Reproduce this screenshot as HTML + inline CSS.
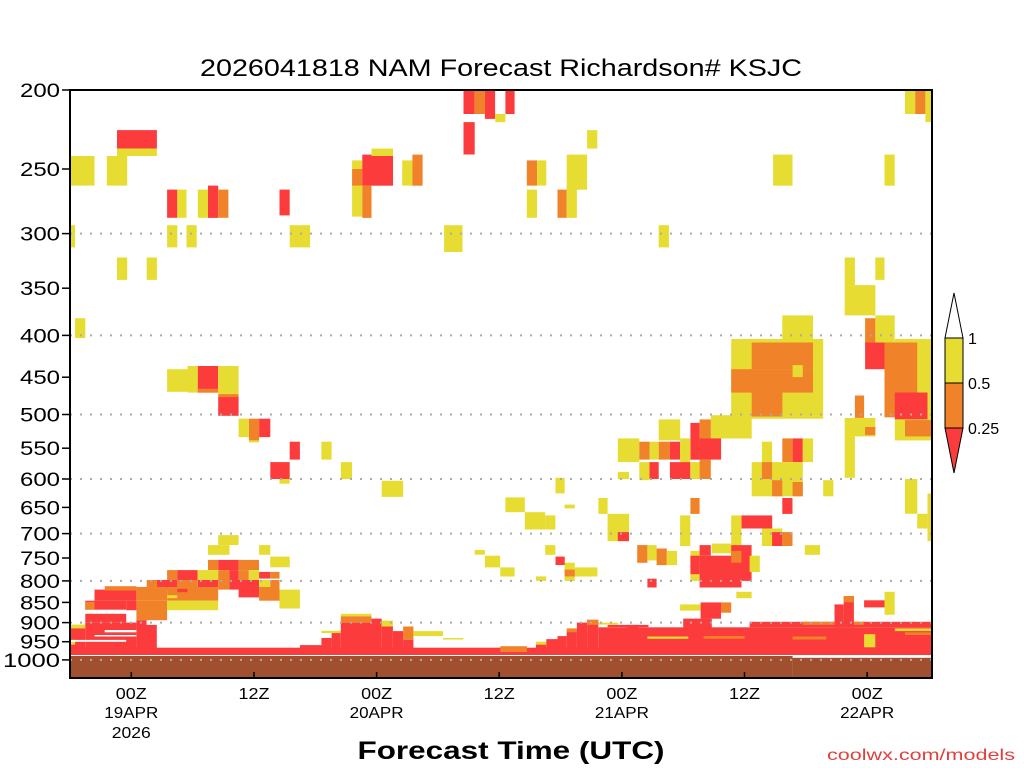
<!DOCTYPE html>
<html><head><meta charset="utf-8"><style>
html,body{margin:0;padding:0;background:#fff;}
svg{display:block;font-family:"Liberation Sans","DejaVu Sans",sans-serif;}
</style></head>
<body>
<svg id="chart" width="1024" height="768" viewBox="0 0 1024 768" xmlns="http://www.w3.org/2000/svg">
<rect x="0" y="0" width="1024" height="768" fill="#fff"/>
<text x="501" y="76" font-size="24" text-anchor="middle" textLength="602" lengthAdjust="spacingAndGlyphs" fill="#000">2026041818 NAM Forecast Richardson# KSJC</text>
<g id="cells"></g>
<g id="grid"></g>
<rect x="70" y="90" width="862" height="588" fill="none" stroke="#000" stroke-width="2"/>
<g id="yaxis"></g>
<g id="xaxis"></g>
<text x="511" y="759" font-size="25" font-weight="bold" text-anchor="middle" textLength="307" lengthAdjust="spacingAndGlyphs">Forecast Time (UTC)</text>
<text x="1015" y="760" font-size="16" text-anchor="end" textLength="188" lengthAdjust="spacingAndGlyphs" fill="#e0403c">coolwx.com/models</text>
<g id="legend">
  <polygon points="945,338 963,338 954,293" fill="#fff" stroke="#000" stroke-width="1"/>
  <rect x="945" y="338" width="18" height="45" fill="#e6dc32" stroke="#000" stroke-width="1"/>
  <rect x="945" y="383" width="18" height="45" fill="#f0822a" stroke="#000" stroke-width="1"/>
  <polygon points="945,428 963,428 954,473" fill="#fc3c3c" stroke="#000" stroke-width="1"/>
  <text x="968" y="344" font-size="16">1</text>
  <text x="968" y="389" font-size="16">0.5</text>
  <text x="968" y="434" font-size="16">0.25</text>
</g>
</svg>
<script>
// pressure tick labels (hPa)
const pressureTicks = [200,250,300,350,400,450,500,550,600,650,700,750,800,850,900,950,1000];
const gridPressures = [300,400,500,600,700,800,900,1000];
// time ticks: forecast hour from 18Z 18APR
const timeTickHours = [6,18,30,42,54,66,78];
const timeTickLabels = ["00Z","12Z","00Z","12Z","00Z","12Z","00Z"];
const dateLabels = ["19APR","","20APR","","21APR","","22APR"];
const yearLabels = ["2026","","","","","",""];
// categories: 0 white gap, 1 = 0.5-1, 2 = 0.25-0.5, 3 = <0.25, 4 = ground
const catColors = ["#ffffff","#e6dc32","#f0822a","#fc3c3c","#a0502e"];
// blocks: [hourStart, hourEnd, pressureTop, pressureBottom, category]
const blocks = [
[4.6,8.5,224,236,3],[4.6,8.5,236,241,1],[0,2.4,241,262,1],[3.6,5.6,241,262,1],
[38.5,39.6,219,240,3],[50.6,51.6,224,236,1],
[38.5,39.6,200,214,3],[39.6,40.6,200,214,2],[40.6,41.6,200,217,3],[41.6,42.6,214,219,1],[42.6,43.5,200,214,3],
[81.7,82.7,200,214,1],[82.7,83.7,200,214,2],[83.7,84.3,200,219,1],
[27.6,28.6,244,286,1],[27.6,28.6,250,262,2],[28.6,31.6,240,262,3],[29.5,31.6,236,241,1],[28.6,29.5,262,287,2],
[32.5,33.5,244,262,1],[33.5,34.5,240,262,2],
[9.5,10.5,265,287,3],[10.5,11.4,265,287,1],[12.5,13.5,265,287,1],[13.5,14.5,262,287,3],[14.5,15.5,265,287,2],[20.5,21.5,265,285,3],
[44.7,45.7,244,262,2],[45.7,46.6,244,262,1],[44.7,45.7,265,287,1],[47.7,48.6,265,287,2],[48.6,49.6,262,287,1],[48.6,50.6,240,265,1],
[68.8,70.7,240,262,1],[79.7,80.7,240,262,1],
[0,0.5,293,312,1],[9.5,10.5,293,312,1],[11.4,12.4,293,312,1],[21.5,23.5,293,312,1],[36.6,38.4,293,316,1],[57.6,58.6,293,312,1],
[4.6,5.6,321,342,1],[7.5,8.5,321,342,1],[0.5,1.5,381,403,1],
[75.8,76.8,321,347,1],[75.8,78.8,347,378,1],[78.8,79.7,321,342,1],
[69.7,72.7,378,406,1],[78.8,80.7,378,411,1],[77.8,78.8,381,411,2],
[64.7,73.7,404,506,1],[66.7,72.7,408,440,2],[64.7,72.7,440,470,2],[66.7,69.7,470,503,2],[70.7,71.7,435,450,1],
[80.7,84.3,404,538,1],[79.7,82.9,408,504,2],[77.8,79.7,408,440,3],[80.7,83.9,470,507,3],[81.7,84.3,508,532,2],
[76.8,77.7,474,505,2],[75.8,78.8,505,532,1],[77.8,78.8,518,530,2],[75.8,76.8,532,598,1],
[57.6,59.7,507,538,1],[62.7,66.7,501,535,1],[60.7,61.6,512,568,3],[61.6,62.7,507,568,2],[61.6,63.7,535,568,3],
[53.6,55.7,535,572,1],[55.7,56.7,540,568,2],[56.7,57.6,540,568,1],[57.6,58.7,540,568,2],[58.7,59.7,540,568,3],[59.7,60.7,535,572,1],
[56.7,57.6,572,600,3],[58.7,60.7,572,600,3],[60.7,61.6,572,600,1],[61.6,62.7,568,600,2],[55.7,56.7,572,602,1],[53.6,54.7,588,600,1],
[67.7,68.7,540,572,1],[69.7,70.7,535,572,2],[70.7,71.7,535,572,3],[71.7,72.7,535,572,1],
[66.7,71.7,572,630,1],[67.7,68.7,572,600,2],[68.7,69.7,602,630,2],[70.7,71.7,605,630,2],[73.7,74.7,602,630,1],[69.7,70.7,633,662,3],
[51.7,52.6,633,662,1],[52.6,54.7,662,715,1],[53.6,54.7,697,715,3],[60.7,61.6,633,662,2],[59.7,60.7,665,725,1],
[64.7,65.7,665,725,1],[65.7,68.7,665,690,3],[67.7,69.7,690,725,1],[68.7,69.7,697,725,3],[69.7,70.7,697,725,2],
[81.7,82.9,600,662,1],[82.9,83.9,662,690,1],[83.9,84.3,625,715,1],
[42.6,44.5,632,659,1],[44.5,46.5,659,692,1],[46.5,47.5,665,692,1],[47.5,48.4,598,625,1],[48.4,49.4,645,652,1],
[46.5,47.5,723,743,1],[48.4,49.4,760,800,1],[49.4,51.6,770,790,1],[45.6,46.6,790,800,1],[47.5,48.4,747,765,3],[48.4,49.4,775,790,2],
[39.6,40.6,733,743,1],[40.6,42.1,745,770,1],[42.1,43.5,770,790,1],
[55.5,56.5,723,760,2],[56.5,57.4,723,755,1],[57.4,58.4,730,765,2],[58.4,59.4,735,765,1],[56.5,57.4,795,815,3],
[60.7,61.6,735,800,1],[60.7,61.6,745,785,3],[61.6,62.7,723,745,3],[62.8,64.7,720,740,1],[61.6,65.7,745,815,3],
[64.7,66.7,723,800,3],[64.7,65.7,735,760,2],[66.5,67.5,745,780,1],[71.9,73.4,723,743,1],[65.2,66.7,825,840,1],
[9.5,12.5,440,469,1],[11.5,12.5,436,470,1],[12.5,14.5,436,470,3],[12.5,14.5,465,470,2],[14.5,16.5,436,472,1],[14.5,16.5,476,502,3],[14.5,16.5,472,476,2],
[16.5,17.5,506,533,1],[17.5,18.5,506,538,2],[18.5,19.6,506,533,3],[17.5,18.5,538,541,1],
[21.5,22.5,540,568,3],[24.6,25.6,540,568,1],[19.6,21.5,572,600,3],[20.5,21.5,600,608,1],[26.5,27.6,572,600,1],[30.5,32.6,603,631,1],
[14.5,16.5,703,723,1],[13.5,15.6,723,743,1],[18.5,19.6,723,743,1],[19.6,21.5,747,765,1],
[13.5,14.5,754,776,2],[14.5,16.5,754,776,3],[16.5,18.5,754,776,2],[19.6,21.5,754,770,1],
[9.5,10.5,776,798,2],[10.5,12.5,776,798,3],[12.5,14.5,776,798,1],[14.5,15.6,776,798,2],[15.6,16.5,776,798,3],[16.5,17.5,776,798,2],[17.5,18.5,776,798,1],[18.5,19.6,780,795,3],[19.6,20.5,780,795,2],
[7.5,8.5,798,820,2],[8.5,10.5,798,820,3],[10.5,12.5,798,820,2],[12.5,14.5,798,820,3],[14.5,15.6,798,820,2],[15.6,18.5,798,820,3],[18.5,19.6,798,820,1],[19.6,20.5,798,820,2],
[2.4,6.5,820,846,3],[3.4,6.5,812,822,2],[6.5,9.5,814,846,2],[9.5,14.5,814,846,2],[10.5,11.5,818,826,3],[9.5,10.5,833,840,1],[16.5,18.5,818,838,3],[18.5,20.5,814,846,2],[20.5,22.5,820,865,1],
[9.5,14.5,846,869,1],[6.5,9.5,846,894,2],[5.5,6.5,846,869,3],[1.5,5.5,846,868,3],[1.5,2.4,849,869,2],[1.5,5.5,868,878,0],[1.5,5.5,878,900,3],[6.5,7.5,894,919,3],
[0,1.5,905,915,1],[0,1.5,915,986,3],[1.5,6.5,900,986,3],[6.5,8.5,906,986,3],[0,0.5,945,958,1],
[3.4,6.5,919,925,0],[0,5.5,945,950,0],[2.4,6.5,932,936,0],
[0,84.3,966,986,3],
[22.5,24.6,959,986,3],[24.6,25.6,940,986,3],[25.6,26.5,925,986,3],[24.6,26.5,921,927,1],
[26.5,29.5,900,986,3],[26.5,29.5,884,900,2],[26.5,29.5,878,884,1],[29.5,30.5,890,986,3],[30.5,31.6,910,986,3],[30.5,31.6,895,910,1],
[31.6,32.6,922,986,3],[32.6,33.6,910,945,2],[32.6,33.6,945,986,3],[33.6,36.5,922,935,1],[36.5,38.5,940,944,1],
[42.1,44.7,962,978,2],
[45.6,46.6,955,986,3],[45.6,46.6,950,958,1],[46.6,47.7,943,986,3],[47.7,48.6,935,986,3],[48.6,49.6,920,986,3],[48.6,49.6,915,925,2],
[49.6,50.6,900,986,3],[50.6,51.7,893,986,3],[50.6,51.7,893,906,2],[51.7,84.3,912,986,3],[51.7,53.6,900,905,1],
[52.6,56.6,906,912,3],[54.5,55.6,906,932,3],[60,62.8,890,925,3],[61.7,63.7,850,890,3],[63.7,64.7,850,875,2],[59.7,61.7,855,870,1],
[66.5,84.3,898,912,3],[71.7,77.7,898,906,2],
[74.8,75.7,855,912,3],[75.7,76.7,835,912,3],[75.7,76.7,835,850,2],[77.7,79.7,845,862,3],[79.7,80.7,825,880,1],
[77.7,78.8,930,965,1],[56.5,60.5,936,942,1],[62,66,935,942,2],[70.7,74,936,944,2],
[80.7,84.3,915,922,1],[81.7,84.3,925,932,2],
[0,70.7,989,1060,4],[70.7,84.3,994,1060,4]
];

const NS = "http://www.w3.org/2000/svg";
const X0 = 70, X1 = 932, Y0 = 90, Y1 = 678;
function xOf(h){ return X0 + h * 10.22; }
function yOf(p){ return Y0 + 354.1 * Math.log(p / 200); }
function clampY(y){ return Math.max(Y0, Math.min(Y1, y)); }
function clampX(x){ return Math.max(X0, Math.min(X1, x)); }

const cellsG = document.getElementById('cells');
blocks.forEach(function(b){
  const x0 = clampX(xOf(b[0])), x1 = clampX(xOf(b[1]));
  const y0 = clampY(yOf(b[2])), y1 = clampY(yOf(b[3]));
  if (x1 <= x0 || y1 <= y0) return;
  const r = document.createElementNS(NS, 'rect');
  r.setAttribute('x', x0.toFixed(1));
  r.setAttribute('y', y0.toFixed(1));
  r.setAttribute('width', (x1 - x0).toFixed(1));
  r.setAttribute('height', (y1 - y0).toFixed(1));
  r.setAttribute('fill', catColors[b[4]]);
  
  
  cellsG.appendChild(r);
});

const gridG = document.getElementById('grid');
gridPressures.forEach(function(p){
  const y = yOf(p);
  const l = document.createElementNS(NS, 'line');
  l.setAttribute('x1', X0); l.setAttribute('x2', X1);
  l.setAttribute('y1', y.toFixed(1)); l.setAttribute('y2', y.toFixed(1));
  l.setAttribute('stroke', '#aaaaaa');
  l.setAttribute('stroke-width', '2');
  l.setAttribute('stroke-dasharray', '2,8');
  
  
  gridG.appendChild(l);
});

const yG = document.getElementById('yaxis');
pressureTicks.forEach(function(p){
  const y = yOf(p);
  const t = document.createElementNS(NS, 'line');
  t.setAttribute('x1', 62); t.setAttribute('x2', X0);
  t.setAttribute('y1', y.toFixed(1)); t.setAttribute('y2', y.toFixed(1));
  t.setAttribute('stroke', '#000'); t.setAttribute('stroke-width', '1.5');
  
  
  yG.appendChild(t);
  const s = document.createElementNS(NS, 'text');
  s.setAttribute('x', 60);
  s.setAttribute('y', (y + 7).toFixed(1));
  s.setAttribute('font-size', '19');
  s.setAttribute('text-anchor', 'end');
  s.setAttribute('textLength', String(p).length === 4 ? '57' : '40');
  s.setAttribute('lengthAdjust', 'spacingAndGlyphs');
  s.textContent = p;
  
  
  yG.appendChild(s);
});

const xG = document.getElementById('xaxis');
timeTickHours.forEach(function(h, i){
  const x = xOf(h);
  const t = document.createElementNS(NS, 'line');
  t.setAttribute('x1', x.toFixed(1)); t.setAttribute('x2', x.toFixed(1));
  t.setAttribute('y1', Y1 - 6); t.setAttribute('y2', Y1);
  t.setAttribute('stroke', '#000'); t.setAttribute('stroke-width', '1.5');
  
  
  xG.appendChild(t);
  const rows = [[timeTickLabels[i], 699], [dateLabels[i], 718], [yearLabels[i], 738]];
  rows.forEach(function(r){
    if (!r[0]) return;
    const s = document.createElementNS(NS, 'text');
    s.setAttribute('x', x.toFixed(1));
    s.setAttribute('y', r[1]);
    s.setAttribute('font-size', '16');
    s.setAttribute('text-anchor', 'middle');
    s.setAttribute('textLength', r[0].length === 5 ? '54' : (r[0].length === 4 ? '39' : '31'));
    s.setAttribute('lengthAdjust', 'spacingAndGlyphs');
    s.textContent = r[0];
    
    
    xG.appendChild(s);
  });
});
</script>
</body></html>
